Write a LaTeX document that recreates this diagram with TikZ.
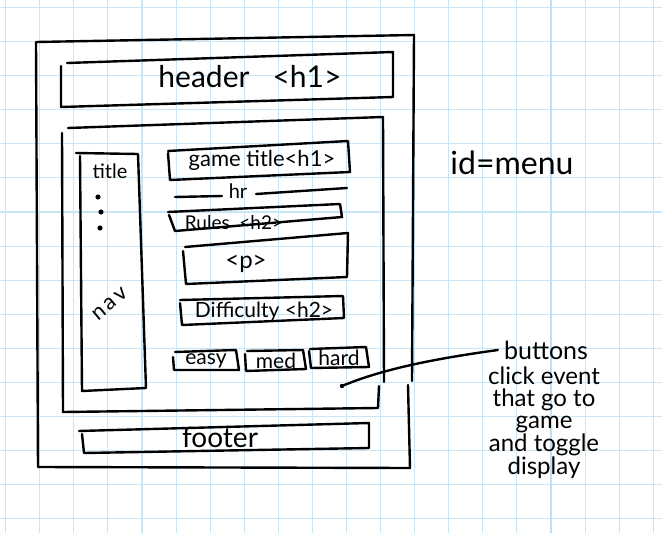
\documentclass[tikz,border=0pt]{standalone}
\usepackage{fontspec}
\setmainfont{Lato}
\begin{document}
\begin{tikzpicture}[x=1pt,y=-1pt,line cap=round,line join=round,
  ink/.style={line width=2.4pt,black},
  gridline/.style={line width=1.1pt,color={rgb,255:red,200;green,230;blue,246}},
  majorline/.style={line width=1.8pt,color={rgb,255:red,190;green,224;blue,244}},
  sz/.style={font=\fontsize{#1pt}{#1pt}\selectfont},
  lbl/.style={inner sep=0pt,text=black}]
\useasboundingbox (0,0) rectangle (662,533);
\fill[white] (0,0) rectangle (662,533);

% graph paper
\foreach \k in {0,...,19} \draw[gridline] ({5.7+34.08*\k},0) -- ({5.7+34.08*\k},533);
\foreach \k in {0,...,15} \draw[gridline] (0,{7.5+34.08*\k}) -- (662,{7.5+34.08*\k});
\draw[majorline] (551,0) -- (551,533);

% page frame
\draw[ink] (412,381) -- (414,35) -- (36,42) -- (38,467) -- (410,468) -- (408,385);

% header
\draw[ink] (67,63) -- (393,52) -- (393,97) -- (61,107) -- (61,66);
\node[lbl,sz=30] (header) at (250,77) {header \ \ <h1>};

% main section
\draw[ink] (68,128) -- (383,117) -- (384,382);
\draw[ink] (379,386) -- (378,408) -- (63,412) -- (62,133);

% nav column
\draw[ink] (76,153) -- (138,154) -- (146,388) -- (82,391) -- (80,156);
\node[lbl,sz=20] (navtitle) at (110,171) {title};
\fill (98,197) circle (2.6) (101,212) circle (2.6) (100,228) circle (2.6);
\node[lbl,sz=22,rotate=40] (nav) at (110,304) {n\hspace{3pt}a\hspace{3pt}v};

% game title
\draw[ink] (168,151) -- (348,141) -- (350,172) -- (170,180) -- (168,153);
\node[lbl,sz=22] (gametitle) at (262,160) {game title<h1>};

% rule
\node[lbl,sz=20] (hr) at (238,191) {hr};
\draw[ink] (175,197) -- (222,196);
\draw[ink] (256,194) -- (347,188);

% rules heading
\draw[ink] (168,212) -- (340,204) -- (342,217) -- (175,231) -- (169,215);
\node[lbl,sz=19] (rules) at (234,223) {Rules \ <h2>};

% paragraph
\draw[ink] (185,247) -- (348,233) -- (347,277) -- (186,284) -- (183,251);
\node[lbl,sz=24] (para) at (246,264) {<p>};

% difficulty heading
\draw[ink] (180,300) -- (343,296) -- (344,318) -- (182,325) -- (180,303);
\node[lbl,sz=21] (diff) at (264,312) {Difficulty <h2>};

% buttons
\draw[ink] (175,352) -- (236,350) -- (239,370) -- (174,370) -- (173,357);
\node[lbl,sz=21] (easy) at (206,361) {easy};
\draw[ink] (247,351) -- (303,350) -- (306,369) -- (246,371) -- (245,354);
\node[lbl,sz=21] (med) at (276,361) {med};
\draw[ink] (310,349) -- (366,347) -- (369,367) -- (311,368) -- (309,351);
\node[lbl,sz=21] (hard) at (339,358) {hard};

% footer
\draw[ink] (79,431) -- (369,423) -- (369,448) -- (84,453) -- (82,434);
\node[lbl,sz=28] (footer) at (220,437) {footer};

% side notes
\node[lbl,sz=32] (menuid) at (512,163) {id=menu};
\node[lbl,sz=25] (btn) at (546,350) {buttons};
\node[lbl,align=center,font=\fontsize{24pt}{22pt}\selectfont,anchor=north]
  (btnnote) at (544,367) {click event\\that go to\\game\\and toggle\\display};
\coordinate (dot) at (342,386);
\fill (dot) circle (2.2);
\draw[ink] (dot) .. controls (385,368) and (440,358) .. ([xshift=-6pt]btn.west);
\end{tikzpicture}
\end{document}
